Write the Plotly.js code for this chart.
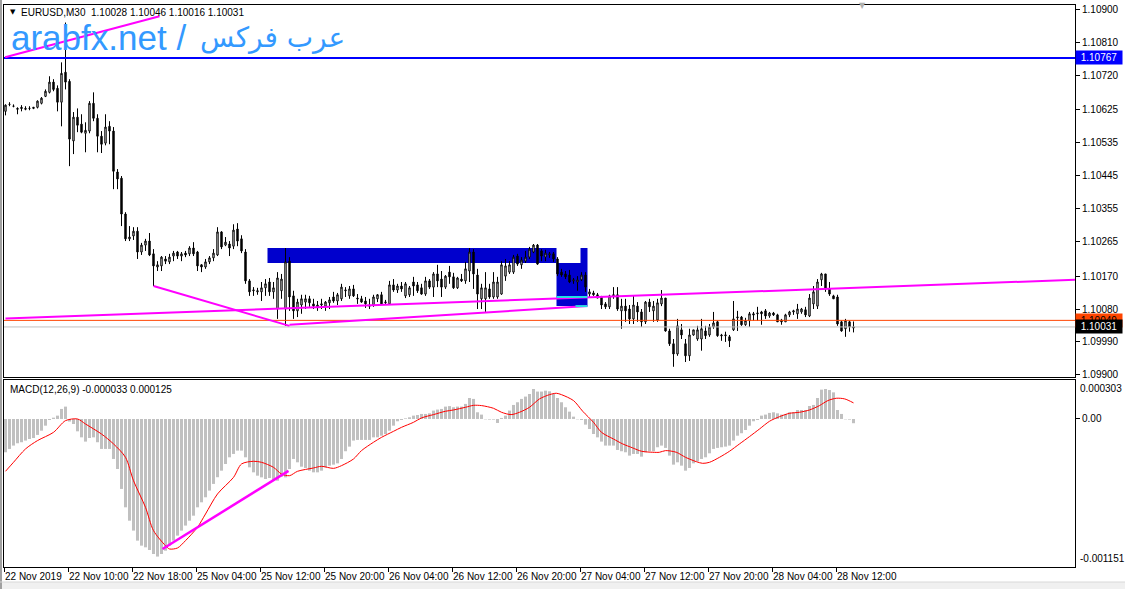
<!DOCTYPE html>
<html><head><meta charset="utf-8">
<script src="https://cdn.plot.ly/plotly-3.0.1.min.js"></script>
<style>html,body{margin:0;padding:0;background:#fff;}#chart{width:1125px;height:589px;}</style>
</head><body><div id="chart"></div>
<script>
// ---- EURUSD M30 candles (bar index 0 = 22 Nov 2019) ----
const open = [1.10621,1.10640,1.10635,1.10629,1.10632,1.10629,1.10629,1.10629,1.10632,1.10643,1.10662,1.10673,1.10701,1.10684,1.10646,1.10728,1.10703,1.10540,1.10605,1.10586,1.10561,1.10567,1.10643,1.10602,1.10553,1.10534,1.10580,1.10567,1.10455,1.10438,1.10340,1.10272,1.10280,1.10293,1.10236,1.10255,1.10266,1.10231,1.10195,1.10198,1.10217,1.10209,1.10225,1.10236,1.10225,1.10233,1.10231,1.10247,1.10236,1.10201,1.10195,1.10209,1.10220,1.10228,1.10291,1.10255,1.10258,1.10252,1.10299,1.10272,1.10236,1.10157,1.10130,1.10127,1.10127,1.10138,1.10154,1.10127,1.10080,1.10130,1.10080,1.10211,1.10116,1.10075,1.10091,1.10099,1.10108,1.10094,1.10086,1.10091,1.10088,1.10097,1.10113,1.10102,1.10108,1.10130,1.10116,1.10135,1.10110,1.10108,1.10102,1.10091,1.10091,1.10108,1.10119,1.10097,1.10094,1.10146,1.10132,1.10143,1.10116,1.10119,1.10154,1.10146,1.10138,1.10121,1.10157,1.10140,1.10176,1.10162,1.10140,1.10181,1.10168,1.10138,1.10162,1.10157,1.10184,1.10236,1.10173,1.10108,1.10108,1.10135,1.10113,1.10113,1.10121,1.10170,1.10181,1.10181,1.10225,1.10201,1.10211,1.10222,1.10236,1.10255,1.10239,1.10222,1.10228,1.10231,1.10217,1.10181,1.10176,1.10173,1.10157,1.10154,1.10160,1.10173,1.10121,1.10124,1.10119,1.10113,1.10094,1.10086,1.10116,1.10119,1.10075,1.10088,1.10080,1.10053,1.10088,1.10072,1.10045,1.10099,1.10075,1.10050,1.10094,1.10110,1.10020,1.09985,1.09957,1.10023,1.09985,1.09952,1.10009,1.09998,1.09998,1.10020,1.10009,1.10031,1.10045,1.10009,1.10007,1.10004,1.10023,1.10056,1.10058,1.10037,1.10048,1.10067,1.10067,1.10072,1.10075,1.10061,1.10069,1.10064,1.10050,1.10045,1.10064,1.10072,1.10067,1.10072,1.10078,1.10061,1.10094,1.10088,1.10160,1.10176,1.10135,1.10116,1.10113,1.10045,1.10026,1.10045,1.10028];
const high = [1.10640,1.10646,1.10640,1.10632,1.10638,1.10635,1.10635,1.10632,1.10651,1.10660,1.10681,1.10717,1.10709,1.10692,1.10755,1.10864,1.10709,1.10619,1.10629,1.10613,1.10591,1.10649,1.10673,1.10613,1.10567,1.10613,1.10594,1.10578,1.10463,1.10444,1.10345,1.10307,1.10304,1.10304,1.10261,1.10272,1.10288,1.10244,1.10211,1.10225,1.10225,1.10231,1.10239,1.10239,1.10236,1.10239,1.10252,1.10263,1.10239,1.10203,1.10217,1.10225,1.10244,1.10304,1.10293,1.10277,1.10266,1.10312,1.10315,1.10282,1.10244,1.10162,1.10140,1.10138,1.10154,1.10162,1.10165,1.10154,1.10181,1.10176,1.10247,1.10222,1.10130,1.10108,1.10119,1.10119,1.10116,1.10108,1.10102,1.10108,1.10102,1.10113,1.10127,1.10124,1.10149,1.10140,1.10143,1.10146,1.10121,1.10116,1.10113,1.10108,1.10119,1.10121,1.10127,1.10105,1.10157,1.10162,1.10149,1.10154,1.10154,1.10143,1.10168,1.10154,1.10149,1.10168,1.10162,1.10181,1.10201,1.10184,1.10173,1.10198,1.10179,1.10168,1.10176,1.10209,1.10247,1.10244,1.10190,1.10149,1.10181,1.10149,1.10181,1.10168,1.10211,1.10217,1.10211,1.10228,1.10231,1.10222,1.10239,1.10250,1.10258,1.10258,1.10244,1.10242,1.10236,1.10236,1.10222,1.10190,1.10184,1.10187,1.10165,1.10170,1.10181,1.10181,1.10135,1.10130,1.10124,1.10116,1.10099,1.10119,1.10140,1.10140,1.10108,1.10108,1.10091,1.10116,1.10099,1.10080,1.10102,1.10108,1.10102,1.10108,1.10132,1.10110,1.10026,1.09998,1.10053,1.10039,1.09998,1.10026,1.10023,1.10034,1.10053,1.10034,1.10039,1.10072,1.10048,1.10012,1.10018,1.10009,1.10102,1.10075,1.10061,1.10056,1.10072,1.10072,1.10086,1.10075,1.10080,1.10072,1.10072,1.10067,1.10053,1.10067,1.10075,1.10078,1.10094,1.10083,1.10086,1.10121,1.10143,1.10162,1.10179,1.10176,1.10154,1.10119,1.10119,1.10048,1.10053,1.10048,1.10046];
const low = [1.10610,1.10635,1.10632,1.10613,1.10621,1.10624,1.10624,1.10627,1.10629,1.10640,1.10660,1.10670,1.10676,1.10621,1.10580,1.10681,1.10471,1.10504,1.10564,1.10561,1.10509,1.10561,1.10594,1.10509,1.10507,1.10528,1.10531,1.10408,1.10408,1.10307,1.10266,1.10266,1.10269,1.10217,1.10228,1.10239,1.10225,1.10143,1.10184,1.10184,1.10203,1.10203,1.10211,1.10217,1.10211,1.10222,1.10225,1.10225,1.10184,1.10181,1.10190,1.10203,1.10211,1.10225,1.10244,1.10252,1.10225,1.10244,1.10252,1.10233,1.10149,1.10116,1.10116,1.10119,1.10102,1.10116,1.10116,1.10108,1.10053,1.10108,1.10034,1.10075,1.10053,1.10058,1.10067,1.10080,1.10086,1.10080,1.10075,1.10080,1.10075,1.10080,1.10097,1.10091,1.10102,1.10113,1.10108,1.10113,1.10094,1.10097,1.10083,1.10080,1.10086,1.10099,1.10091,1.10091,1.10091,1.10127,1.10124,1.10127,1.10110,1.10113,1.10116,1.10124,1.10119,1.10116,1.10135,1.10113,1.10140,1.10113,1.10135,1.10149,1.10135,1.10135,1.10154,1.10149,1.10154,1.10135,1.10080,1.10080,1.10072,1.10108,1.10108,1.10108,1.10119,1.10157,1.10176,1.10176,1.10198,1.10190,1.10206,1.10217,1.10233,1.10201,1.10211,1.10211,1.10220,1.10209,1.10170,1.10168,1.10162,1.10151,1.10149,1.10130,1.10157,1.10127,1.10113,1.10116,1.10110,1.10080,1.10080,1.10080,1.10108,1.10075,1.10026,1.10045,1.10039,1.10039,1.10045,1.10031,1.10039,1.10072,1.10045,1.10045,1.10088,1.10018,1.09979,1.09922,1.09952,1.09998,1.09935,1.09938,1.10007,1.09993,1.09966,1.09998,1.10004,1.10026,1.10004,1.09993,1.09990,1.09976,1.10020,1.10020,1.10034,1.10034,1.10031,1.10048,1.10048,1.10037,1.10053,1.10056,1.10061,1.10045,1.10037,1.10045,1.10058,1.10064,1.10053,1.10067,1.10058,1.10058,1.10080,1.10080,1.10143,1.10127,1.10116,1.10108,1.10034,1.10018,1.10004,1.10018,1.10016];
const close = [1.10638,1.10640,1.10635,1.10627,1.10629,1.10627,1.10629,1.10632,1.10649,1.10657,1.10676,1.10701,1.10681,1.10646,1.10725,1.10701,1.10545,1.10605,1.10583,1.10564,1.10569,1.10643,1.10602,1.10553,1.10531,1.10578,1.10567,1.10457,1.10436,1.10340,1.10272,1.10277,1.10293,1.10236,1.10255,1.10266,1.10228,1.10198,1.10201,1.10222,1.10211,1.10222,1.10233,1.10225,1.10231,1.10228,1.10247,1.10231,1.10198,1.10195,1.10209,1.10220,1.10233,1.10291,1.10250,1.10263,1.10247,1.10296,1.10266,1.10239,1.10157,1.10127,1.10132,1.10130,1.10138,1.10149,1.10127,1.10138,1.10165,1.10162,1.10209,1.10113,1.10075,1.10099,1.10108,1.10108,1.10097,1.10088,1.10091,1.10094,1.10099,1.10105,1.10102,1.10119,1.10140,1.10132,1.10135,1.10116,1.10108,1.10099,1.10094,1.10088,1.10113,1.10119,1.10094,1.10099,1.10146,1.10132,1.10143,1.10135,1.10149,1.10138,1.10143,1.10130,1.10121,1.10157,1.10140,1.10176,1.10157,1.10140,1.10170,1.10168,1.10138,1.10165,1.10157,1.10190,1.10236,1.10176,1.10121,1.10138,1.10138,1.10113,1.10154,1.10154,1.10201,1.10198,1.10201,1.10222,1.10203,1.10214,1.10222,1.10244,1.10255,1.10203,1.10225,1.10233,1.10231,1.10217,1.10176,1.10173,1.10168,1.10154,1.10160,1.10160,1.10173,1.10140,1.10127,1.10119,1.10110,1.10091,1.10086,1.10116,1.10119,1.10080,1.10088,1.10075,1.10053,1.10091,1.10072,1.10045,1.10099,1.10086,1.10088,1.10097,1.10110,1.10020,1.09985,1.09957,1.10034,1.10009,1.09952,1.10009,1.10023,1.10023,1.10026,1.10007,1.10031,1.10042,1.10007,1.10007,1.10009,1.09993,1.10053,1.10058,1.10037,1.10048,1.10067,1.10064,1.10069,1.10067,1.10061,1.10069,1.10064,1.10045,1.10045,1.10064,1.10072,1.10075,1.10080,1.10080,1.10064,1.10110,1.10127,1.10154,1.10176,1.10135,1.10121,1.10108,1.10039,1.10020,1.10048,1.10031,1.10031];

// ---- MACD(12,26,9): main histogram per bar, signal line read at sample bars ----
const macdHist = [-259e-6,-233e-6,-207e-6,-189e-6,-181e-6,-168e-6,-156e-6,-148e-6,-124e-6,-91e-6,-52e-6,-8e-6,10e-6,26e-6,78e-6,96e-6,-20e-6,-39e-6,-96e-6,-143e-6,-176e-6,-148e-6,-143e-6,-181e-6,-233e-6,-233e-6,-233e-6,-311e-6,-389e-6,-544e-6,-687e-6,-791e-6,-868e-6,-946e-6,-985e-6,-998e-6,-1019e-6,-1050e-6,-1070e-6,-1050e-6,-1024e-6,-985e-6,-946e-6,-907e-6,-868e-6,-829e-6,-791e-6,-752e-6,-687e-6,-648e-6,-609e-6,-557e-6,-505e-6,-453e-6,-402e-6,-350e-6,-298e-6,-272e-6,-246e-6,-246e-6,-298e-6,-376e-6,-415e-6,-441e-6,-454e-6,-467e-6,-459e-6,-474e-6,-480e-6,-448e-6,-454e-6,-389e-6,-311e-6,-337e-6,-371e-6,-381e-6,-402e-6,-415e-6,-415e-6,-402e-6,-376e-6,-363e-6,-355e-6,-345e-6,-311e-6,-251e-6,-215e-6,-168e-6,-163e-6,-163e-6,-163e-6,-163e-6,-143e-6,-143e-6,-130e-6,-117e-6,-91e-6,-52e-6,-18e-6,-8e-6,5e-6,13e-6,26e-6,31e-6,39e-6,39e-6,44e-6,65e-6,73e-6,78e-6,96e-6,100e-6,91e-6,96e-6,96e-6,117e-6,163e-6,156e-6,52e-6,34e-6,-3e-6,-5e-6,-5e-6,-31e-6,8e-6,26e-6,65e-6,109e-6,130e-6,156e-6,174e-6,194e-6,233e-6,213e-6,213e-6,220e-6,215e-6,194e-6,163e-6,130e-6,91e-6,57e-6,18e-6,-3e-6,-8e-6,-44e-6,-78e-6,-117e-6,-143e-6,-176e-6,-207e-6,-207e-6,-207e-6,-241e-6,-251e-6,-259e-6,-285e-6,-272e-6,-272e-6,-293e-6,-259e-6,-251e-6,-251e-6,-220e-6,-207e-6,-225e-6,-285e-6,-355e-6,-337e-6,-363e-6,-402e-6,-381e-6,-345e-6,-329e-6,-311e-6,-298e-6,-267e-6,-233e-6,-225e-6,-220e-6,-215e-6,-207e-6,-168e-6,-130e-6,-111e-6,-86e-6,-52e-6,-18e-6,-8e-6,26e-6,34e-6,47e-6,52e-6,44e-6,34e-6,39e-6,52e-6,52e-6,70e-6,70e-6,70e-6,101e-6,109e-6,163e-6,228e-6,233e-6,225e-6,207e-6,70e-6,39e-6,-3e-6,-5e-6,-33e-6];
const sigBar = [0,2,5,8,12,15,18,20,24,27,30,32,35,37,40,41,43,45,48,50,53,57,59,62,64,67,69,71,73,77,79,82,84,87,89,92,94,97,99,102,104,107,110,112,115,117,119,122,124,126.4,128.5,131,133.5,136,137.7,139,142,144.3,147,149,152,154.3,156.8,159,161.8,163.5,165,167.7,170,172.7,174.3,176,178.5,181,183.5,186,188.5,191,193.5,196,198.5,201,203.5,205.6,207.7,209.8,212];
const sigVal = [-407e-6,-337e-6,-233e-6,-168e-6,-104e-6,-13e-6,0,-39e-6,-117e-6,-194e-6,-298e-6,-480e-6,-687e-6,-868e-6,-985e-6,-1011e-6,-1003e-6,-946e-6,-842e-6,-739e-6,-583e-6,-454e-6,-350e-6,-329e-6,-337e-6,-376e-6,-428e-6,-441e-6,-407e-6,-381e-6,-368e-6,-384e-6,-363e-6,-311e-6,-246e-6,-181e-6,-143e-6,-96e-6,-65e-6,-26e-6,8e-6,34e-6,60e-6,70e-6,91e-6,106e-6,104e-6,83e-6,52e-6,34e-6,52e-6,91e-6,156e-6,189e-6,200e-6,189e-6,143e-6,60e-6,-26e-6,-104e-6,-156e-6,-194e-6,-225e-6,-251e-6,-259e-6,-259e-6,-246e-6,-259e-6,-298e-6,-332e-6,-345e-6,-337e-6,-298e-6,-251e-6,-194e-6,-137e-6,-78e-6,-18e-6,18e-6,44e-6,52e-6,70e-6,104e-6,143e-6,161e-6,156e-6,125e-6];

// ---- axis labels ----
const priceTicks = [1.10900,1.10810,1.10720,1.10625,1.10535,1.10445,1.10355,1.10265,1.10170,1.10080,1.09990,1.09900];
const timeTickBars = [0,16,32,48,64,80,96,112,128,144,160,176,192,208];
const timeLabels = ["22 Nov 2019","22 Nov 10:00","22 Nov 18:00","25 Nov 04:00","25 Nov 12:00","25 Nov 20:00","26 Nov 04:00","26 Nov 12:00","26 Nov 20:00","27 Nov 04:00","27 Nov 12:00","27 Nov 20:00","28 Nov 04:00","28 Nov 12:00"];

// ---- chart objects (bar index, price) ----
const levels = [1.10767, 1.10049, 1.10031];            // blue line, red line, bid line
const trendLines = [[-0.1,1.10769,38.5,1.10881],[37,1.10143,71,1.10034],[71,1.10037,145.5,1.10088],[0,1.10054,267.4,1.10160]];
const boxes = [[65.5,1.10206,137.75,1.10247],[137.75,1.10088,145.5,1.10206],[143.75,1.10206,145.5,1.10247]];
const cyanLines = [[137.75,1.10113,145.5,1.10113],[142.5,1.10088,145.5,1.10088]];
const macdTrend = [39.25,-0.001011,70.75,-0.000404];
const macdRange = [-0.001151, 0.000303];
const headerText = "EURUSD,M30  1.10028 1.10046 1.10016 1.10031";
const macdText = "MACD(12,26,9) -0.000033 0.000125";
const watermarkLatin = "arabfx.net /";
const watermarkArabic = "عرب فركس";

// ---- geometry ----
const W = 1125, H = 589, ML = 4, MR = 50, MT = 5, MB = 22;
const PW = W - ML - MR, PH = H - MT - MB;
const px = x => (x - ML) / PW;          // page pixel -> paper x
const py = y => (H - MB - y) / PH;      // page pixel -> paper y
const xr = [(ML - 5.5) / 4, (W - MR - 5.5) / 4];
const bars = open.map((_, i) => i);
const FONT = "Liberation Sans, Arial, DejaVu Sans, sans-serif";

const traces = [
  {type:'candlestick', x:bars, open:open, high:high, low:low, close:close, xaxis:'x', yaxis:'y',
   increasing:{line:{color:'#000', width:1}, fillcolor:'#ffffff'},
   decreasing:{line:{color:'#000', width:1}, fillcolor:'#000000'},
   whiskerwidth:0, hoverinfo:'skip', showlegend:false},
  {type:'bar', x:bars, y:macdHist, xaxis:'x2', yaxis:'y2', width:0.75,
   marker:{color:'#c0c0c0', line:{width:0}}, hoverinfo:'skip', showlegend:false},
  {type:'scatter', mode:'lines', x:sigBar, y:sigVal, xaxis:'x2', yaxis:'y2',
   line:{color:'#ff0000', width:1, shape:'spline', smoothing:0.8}, hoverinfo:'skip', showlegend:false}
];

const shapes = [];
boxes.forEach(b => shapes.push({type:'rect', xref:'x', yref:'y', x0:b[0], y0:b[1], x1:b[2], y1:b[3],
  fillcolor:'#0000cd', line:{width:0}, layer:'below'}));
shapes.push({type:'line', xref:'paper', yref:'y', x0:0, x1:1, y0:levels[0], y1:levels[0], line:{color:'#0000ff', width:2}});
shapes.push({type:'line', xref:'paper', yref:'y', x0:0, x1:1, y0:levels[2], y1:levels[2], line:{color:'#c0c0c0', width:1}});
shapes.push({type:'line', xref:'paper', yref:'y', x0:0, x1:1, y0:levels[1], y1:levels[1], line:{color:'#ff4500', width:1}});
trendLines.forEach(t => shapes.push({type:'line', xref:'x', yref:'y', x0:t[0], y0:t[1], x1:t[2], y1:t[3],
  line:{color:'#ff00ff', width:2}}));
cyanLines.forEach(t => shapes.push({type:'line', xref:'x', yref:'y', x0:t[0], y0:t[1], x1:t[2], y1:t[3],
  line:{color:'#20e0e0', width:2}}));
shapes.push({type:'line', xref:'x2', yref:'y2', x0:macdTrend[0], y0:macdTrend[1], x1:macdTrend[2], y1:macdTrend[3],
  line:{color:'#ff00ff', width:2.5}});
// window frame strips
shapes.push({type:'rect', xref:'paper', yref:'paper', x0:px(0), x1:px(W), y0:py(582), y1:py(H), fillcolor:'#f0f0f0', line:{width:0}, layer:'below'});
shapes.push({type:'line', xref:'paper', yref:'paper', x0:px(0), x1:px(W), y0:py(582), y1:py(582), line:{color:'#d8d8d8', width:1}});
shapes.push({type:'rect', xref:'paper', yref:'paper', x0:px(0), x1:px(2), y0:py(0), y1:py(H), fillcolor:'#a0a0a0', line:{width:0}, layer:'below'});

const lvlFmt = v => v.toFixed(5);
const annotations = [
  {xref:'paper', yref:'paper', x:px(9), y:py(38), xanchor:'left', yanchor:'middle', showarrow:false,
   text:watermarkLatin, font:{family:'Liberation Sans, Arial, sans-serif', size:35, color:'#3399ff'}},
  {xref:'paper', yref:'paper', x:px(347), y:py(38), xanchor:'right', yanchor:'middle', showarrow:false,
   text:watermarkArabic, font:{family:'DejaVu Sans, Noto Sans, sans-serif', size:28, color:'#3399ff'}},
  {xref:'paper', yref:'paper', x:px(8), y:py(12), xanchor:'left', yanchor:'middle', showarrow:false,
   text:'▼', font:{family:'DejaVu Sans', size:7, color:'#000'}},
  {xref:'paper', yref:'paper', x:px(19), y:py(12), xanchor:'left', yanchor:'middle', showarrow:false,
   text:headerText, font:{family:FONT, size:10, color:'#000'}},
  {xref:'paper', yref:'paper', x:px(8), y:py(389), xanchor:'left', yanchor:'middle', showarrow:false,
   text:macdText, font:{family:FONT, size:10, color:'#000'}},
  {xref:'paper', yref:'paper', x:px(862), y:py(5), xanchor:'center', yanchor:'middle', showarrow:false,
   text:'▼', font:{family:'DejaVu Sans', size:8, color:'#b0b0b0'}},
  {xref:'paper', yref:'y', x:1, y:levels[0], xanchor:'left', yanchor:'middle', showarrow:false, xshift:0,
   text:lvlFmt(levels[0]), bgcolor:'#0000ff', borderpad:1, font:{family:FONT, size:10, color:'#ffffff'}, width:44},
  {xref:'paper', yref:'y', x:1, y:levels[1], xanchor:'left', yanchor:'middle', showarrow:false, xshift:0,
   text:lvlFmt(levels[1]), bgcolor:'#ff4500', borderpad:1, font:{family:FONT, size:10, color:'#000000'}, width:44},
  {xref:'paper', yref:'y', x:1, y:levels[2], xanchor:'left', yanchor:'middle', showarrow:false, xshift:0,
   text:lvlFmt(levels[2]), bgcolor:'#000000', borderpad:1, font:{family:FONT, size:10, color:'#ffffff'}, width:44},
  {xref:'paper', yref:'y2', x:1, y:macdRange[1], xanchor:'left', yanchor:'top', showarrow:false, xshift:3, yshift:-1,
   text:'0.000303', font:{family:FONT, size:10, color:'#000'}},
  {xref:'paper', yref:'y2', x:1, y:macdRange[0], xanchor:'left', yanchor:'bottom', showarrow:false, xshift:3, yshift:1,
   text:'-0.001151', font:{family:FONT, size:10, color:'#000'}}
];

const axBase = {showgrid:false, zeroline:false, showline:true, mirror:true, linecolor:'#000', linewidth:1};
const layout = {
  width:W, height:H, margin:{l:ML, r:MR, t:MT, b:MB, pad:0},
  paper_bgcolor:'#ffffff', plot_bgcolor:'#ffffff', showlegend:false, hovermode:false,
  font:{family:FONT, size:10, color:'#000'}, boxgap:0.5,
  xaxis:Object.assign({}, axBase, {domain:[0,1], range:xr, anchor:'y', showticklabels:false, ticks:'', rangeslider:{visible:false}}),
  xaxis2:Object.assign({}, axBase, {domain:[0,1], range:xr, anchor:'y2', matches:'x',
    tickvals:timeTickBars.map(b => b - 0.375), ticktext:timeLabels, ticks:'outside', ticklen:4, tickcolor:'#000',
    tickangle:0, ticklabelposition:'outside right', tickfont:{family:FONT, size:10, color:'#000'}}),
  yaxis:Object.assign({}, axBase, {domain:[py(377), 1], range:[1.09894, 1.10912], side:'right', anchor:'x',
    tickvals:priceTicks, ticktext:priceTicks.map(v => v.toFixed(5)), ticks:'outside', ticklen:4, tickcolor:'#000',
    tickfont:{family:FONT, size:10, color:'#000'}}),
  yaxis2:Object.assign({}, axBase, {domain:[0, py(380)], range:macdRange, side:'right', anchor:'x2',
    tickvals:[0], ticktext:['0.00'], ticks:'outside', ticklen:4, tickcolor:'#000',
    tickfont:{family:FONT, size:10, color:'#000'}}),
  shapes:shapes, annotations:annotations
};
Plotly.newPlot('chart', traces, layout, {staticPlot:true, displayModeBar:false});
</script></body></html>
